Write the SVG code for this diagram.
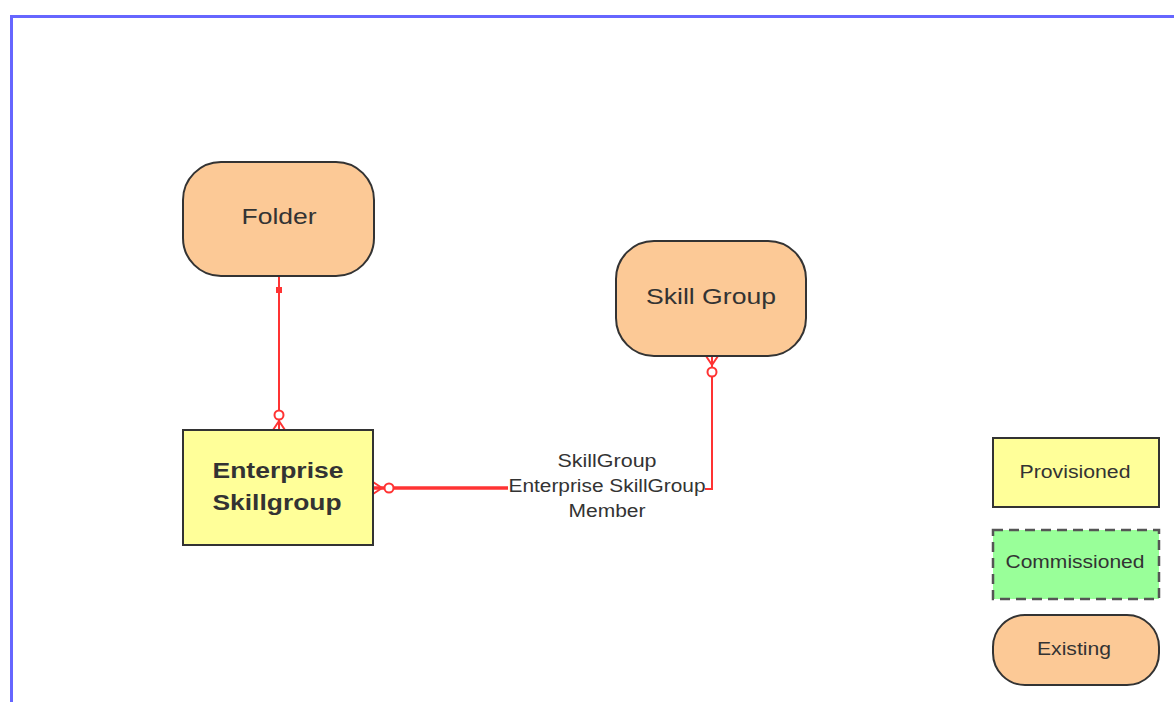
<svg xmlns="http://www.w3.org/2000/svg" width="1174" height="702" viewBox="0 0 1174 702">
<style>
text{font-family:"Liberation Sans",Arial,sans-serif;fill:#333;text-anchor:middle;}
.ex{fill:#fcc996;stroke:#333;stroke-width:2;}
.pr{fill:#ffff99;stroke:#333;stroke-width:2;}
.cm{fill:#99ff99;stroke:#555;stroke-width:2.5;stroke-dasharray:10,6;}
.c{fill:none;stroke:#ff3333;stroke-width:2;}
.ch{fill:none;stroke:#ff3333;stroke-width:3.5;}
.o{fill:#fff;stroke:#ff3333;stroke-width:2;}
.lbl{font-size:18px;}
.nm{font-size:22px;}
</style>
<rect width="1174" height="702" fill="#fff"/>
<path d="M11.5 702 V16.5 H1174" fill="none" stroke="#6666ff" stroke-width="3"/>
<g id="connectors">
<g id="c1">
<path class="c" d="M279 276 V430"/>
<rect x="276" y="287" width="6" height="6" fill="#ff3333"/>
<circle class="o" cx="279" cy="415" r="4.5"/>
<path class="c" d="M273 430 L279 421 L285 430"/>
</g>
<g id="c2">
<path class="ch" d="M373 488 H508"/>
<path class="c" d="M705 489 H712 V356"/>
<circle class="o" cx="389" cy="488" r="4.5"/>
<path class="c" d="M373 482 L382 488 L373 494"/>
<circle class="o" cx="712" cy="372" r="4.5"/>
<path class="c" d="M706 356 L712 365 L718 356"/>
<text class="lbl" x="607" y="467" textLength="99" lengthAdjust="spacingAndGlyphs">SkillGroup</text>
<text class="lbl" x="607" y="492" textLength="197" lengthAdjust="spacingAndGlyphs">Enterprise SkillGroup</text>
<text class="lbl" x="607" y="517" textLength="77" lengthAdjust="spacingAndGlyphs">Member</text>
</g>
</g>
<g id="folder">
<rect class="ex" x="183" y="162" width="191" height="114" rx="38"/>
<text class="nm" x="279" y="224" textLength="75" lengthAdjust="spacingAndGlyphs">Folder</text>
</g>
<g id="skillgroup">
<rect class="ex" x="616" y="241" width="190" height="115" rx="38"/>
<text class="nm" x="711" y="304" textLength="130" lengthAdjust="spacingAndGlyphs">Skill Group</text>
</g>
<g id="enterprise-skillgroup">
<rect class="pr" x="183" y="430" width="190" height="115"/>
<text class="nm" x="278" y="478" font-weight="bold" textLength="131" lengthAdjust="spacingAndGlyphs">Enterprise</text>
<text class="nm" x="277" y="510" font-weight="bold" textLength="129" lengthAdjust="spacingAndGlyphs">Skillgroup</text>
</g>
<g id="legend-provisioned">
<rect class="pr" x="993" y="438" width="166" height="69"/>
<text class="lbl" x="1075" y="478" textLength="111" lengthAdjust="spacingAndGlyphs">Provisioned</text>
</g>
<g id="legend-commissioned">
<rect class="cm" x="993" y="530" width="166" height="69"/>
<text class="lbl" x="1075" y="568" textLength="139" lengthAdjust="spacingAndGlyphs">Commissioned</text>
</g>
<g id="legend-existing">
<rect class="ex" x="993" y="615" width="166" height="70" rx="32"/>
<text class="lbl" x="1074" y="655" textLength="74" lengthAdjust="spacingAndGlyphs">Existing</text>
</g>
</svg>
